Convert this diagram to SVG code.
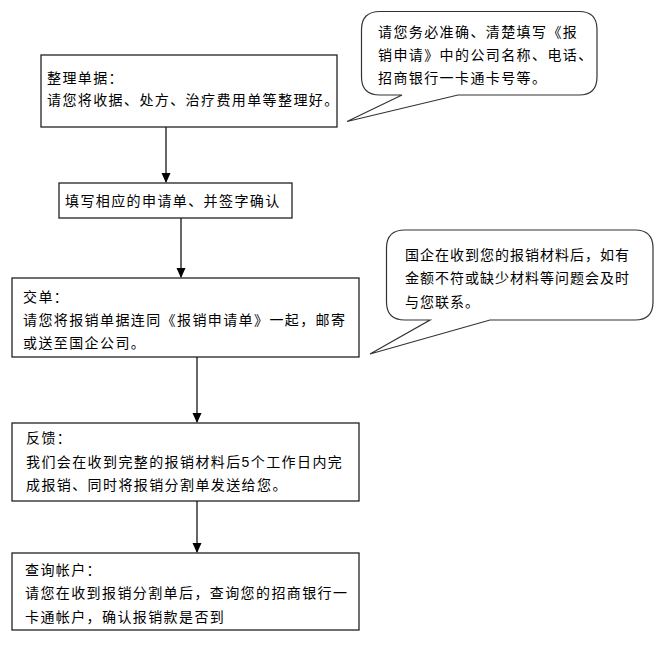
<svg xmlns="http://www.w3.org/2000/svg" width="668" height="646" viewBox="0 0 668 646">
<style>
.box{fill:#fff;stroke:#222;stroke-width:1.3}
.call{fill:#fff;stroke:#333;stroke-width:1.2}
.t{font-family:"Liberation Sans","Noto Sans CJK SC",sans-serif;font-size:14px;fill:#000;letter-spacing:1.4px}
.n2{letter-spacing:1.0px}
.c{stroke:#000;stroke-width:1.2;fill:none}
</style>
<defs>
<marker id="ah" markerWidth="10" markerHeight="10" refX="9" refY="4.5" orient="auto" markerUnits="userSpaceOnUse">
<path d="M0,0 L10,4.5 L0,9 Z" fill="#000"/>
</marker>
</defs>
<g id="connectors">
<line class="c" x1="166" y1="127" x2="166" y2="182" marker-end="url(#ah)"/>
<line class="c" x1="181" y1="218" x2="181" y2="277" marker-end="url(#ah)"/>
<line class="c" x1="197" y1="357" x2="197" y2="422" marker-end="url(#ah)"/>
<line class="c" x1="197" y1="501" x2="197" y2="552" marker-end="url(#ah)"/>
</g>
<g id="step1">
<rect class="box" x="41" y="55" width="296" height="72"/>
<text class="t" x="47" y="83">整理单据：</text>
<text class="t" x="47" y="105">请您将收据、处方、治疗费用单等整理好。</text>
</g>
<g id="note1">
<path class="call" d="M380,11.5 H579 Q597,11.5 597,29.5 V77 Q597,95 579,95 H458 L347,121.5 L402,95 H380 Q361.5,95 361.5,77 V29.5 Q361.5,11.5 380,11.5 Z"/>
<text class="t" x="378" y="37">请您务必准确、清楚填写《报</text>
<text class="t" x="378" y="60">销申请》中的公司名称、电话、</text>
<text class="t" x="378" y="83">招商银行一卡通卡号等。</text>
</g>
<g id="step2">
<rect class="box" x="59" y="183" width="233" height="35"/>
<text class="t" x="65" y="206">填写相应的申请单、并签字确认</text>
</g>
<g id="step3">
<rect class="box" x="12" y="278" width="347" height="79"/>
<text class="t" x="23" y="302">交单：</text>
<text class="t" x="23" y="325">请您将报销单据连同《报销申请单》一起，邮寄</text>
<text class="t" x="23" y="348">或送至国企公司。</text>
</g>
<g id="note2">
<path class="call" d="M405,230 H635 Q653,230 653,248 V302 Q653,320 635,320 H490 L370,354 L430,320 H405 Q386.5,320 386.5,302 V248 Q386.5,230 405,230 Z"/>
<text class="t n2" x="405" y="260">国企在收到您的报销材料后，如有</text>
<text class="t n2" x="405" y="283">金额不符或缺少材料等问题会及时</text>
<text class="t n2" x="405" y="307">与您联系。</text>
</g>
<g id="step4">
<rect class="box" x="12" y="423" width="347" height="78"/>
<text class="t" x="26" y="443">反馈：</text>
<text class="t" x="26" y="467">我们会在收到完整的报销材料后5个工作日内完</text>
<text class="t" x="26" y="490">成报销、同时将报销分割单发送给您。</text>
</g>
<g id="step5">
<rect class="box" x="12" y="553" width="347" height="77"/>
<text class="t" x="25" y="575">查询帐户：</text>
<text class="t" x="25" y="598">请您在收到报销分割单后，查询您的招商银行一</text>
<text class="t" x="25" y="622">卡通帐户，确认报销款是否到</text>
</g>
</svg>
